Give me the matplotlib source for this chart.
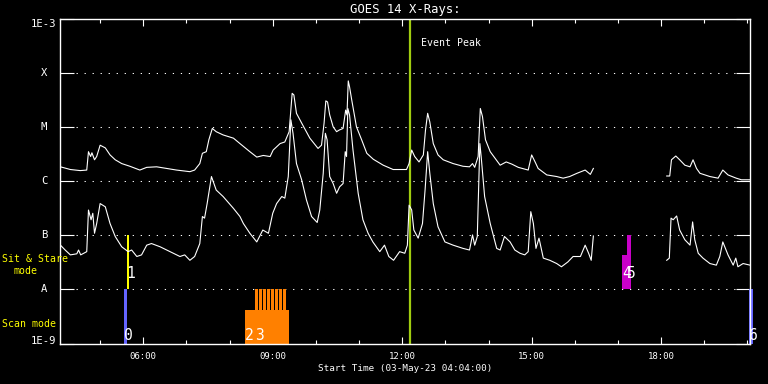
import numpy as np
import matplotlib
matplotlib.use('Agg')
import matplotlib.pyplot as plt
from matplotlib.ticker import FixedLocator, NullLocator, NullFormatter

# GOES 14 light curves
# time in hours of 03-May-23, flux as log10(W/m^2)
long_t = [4.08, 4.31, 4.54, 4.69, 4.73, 4.78, 4.81, 4.87, 4.92, 5.00,
          5.12, 5.23, 5.35, 5.50, 5.69, 5.92, 6.08, 6.31, 6.54, 6.77,
          7.08, 7.19, 7.31, 7.37, 7.46, 7.52, 7.60, 7.69, 7.85, 8.09,
          8.24, 8.47, 8.63, 8.78, 8.94, 9.01, 9.17, 9.28, 9.38, 9.45,
          9.49, 9.55, 9.67, 9.86, 10.05, 10.13, 10.19, 10.23, 10.27, 10.32,
          10.40, 10.48, 10.54, 10.63, 10.69, 10.72, 10.75, 10.78, 10.83, 10.94,
          11.06, 11.18, 11.33, 11.56, 11.79, 11.95, 12.10, 12.16, 12.22, 12.29,
          12.39, 12.49, 12.54, 12.59, 12.64, 12.72, 12.83, 12.95, 13.18, 13.41,
          13.56, 13.63, 13.68, 13.76, 13.81, 13.86, 13.93, 14.04, 14.27, 14.41,
          14.54, 14.69, 14.92, 15.00, 15.08, 15.15, 15.35, 15.58, 15.73, 15.88,
          16.05, 16.24, 16.36, 16.43, 18.13, 18.20, 18.24, 18.34, 18.43, 18.55,
          18.67, 18.74, 18.82, 18.90, 19.13, 19.32, 19.43, 19.55, 19.74, 19.86, 20.06]
long_log = [-5.73, -5.78, -5.80, -5.79, -5.45, -5.54, -5.47, -5.60, -5.54, -5.33,
            -5.38, -5.51, -5.60, -5.67, -5.72, -5.79, -5.74, -5.73, -5.76, -5.79,
            -5.82, -5.79, -5.67, -5.48, -5.45, -5.23, -5.02, -5.08, -5.14, -5.20,
            -5.30, -5.45, -5.55, -5.52, -5.54, -5.42, -5.30, -5.27, -5.08, -4.37,
            -4.40, -4.74, -4.92, -5.20, -5.39, -5.33, -4.92, -4.51, -4.53, -4.77,
            -4.99, -5.08, -5.05, -5.02, -4.68, -4.77, -4.14, -4.25, -4.49, -4.99,
            -5.23, -5.48, -5.59, -5.70, -5.78, -5.78, -5.78, -5.67, -5.42, -5.54,
            -5.64, -5.51, -5.05, -4.74, -4.90, -5.30, -5.51, -5.60, -5.67, -5.72,
            -5.73, -5.67, -5.74, -5.54, -4.65, -4.80, -5.23, -5.45, -5.70, -5.64,
            -5.68, -5.74, -5.79, -5.51, -5.64, -5.76, -5.88, -5.91, -5.94, -5.91,
            -5.85, -5.79, -5.87, -5.76, -5.90, -5.90, -5.60, -5.53, -5.60, -5.70,
            -5.73, -5.60, -5.76, -5.85, -5.91, -5.94, -5.79, -5.88, -5.94, -5.97, -5.97]

short_t = [4.08, 4.19, 4.31, 4.46, 4.50, 4.55, 4.69, 4.73, 4.77, 4.79,
           4.83, 4.87, 4.92, 5.00, 5.12, 5.23, 5.35, 5.50, 5.65, 5.73,
           5.85, 5.96, 6.08, 6.19, 6.39, 6.62, 6.85, 6.96, 7.08, 7.19,
           7.31, 7.37, 7.42, 7.48, 7.58, 7.69, 7.85, 8.09, 8.24, 8.32,
           8.47, 8.63, 8.77, 8.90, 9.00, 9.09, 9.21, 9.28, 9.36, 9.42,
           9.47, 9.55, 9.67, 9.78, 9.90, 10.03, 10.09, 10.17, 10.22, 10.26,
           10.32, 10.40, 10.48, 10.55, 10.63, 10.68, 10.71, 10.74, 10.78, 10.86,
           10.98, 11.09, 11.21, 11.32, 11.48, 11.59, 11.69, 11.80, 11.94, 12.06,
           12.12, 12.16, 12.22, 12.27, 12.37, 12.47, 12.53, 12.59, 12.64, 12.72,
           12.83, 12.99, 13.18, 13.41, 13.56, 13.63, 13.68, 13.74, 13.80, 13.83,
           13.91, 14.04, 14.19, 14.27, 14.37, 14.50, 14.61, 14.73, 14.84, 14.92,
           14.98, 15.04, 15.10, 15.17, 15.27, 15.42, 15.58, 15.69, 15.84, 15.96,
           16.13, 16.24, 16.32, 16.38, 16.43, 18.13, 18.19, 18.23, 18.28, 18.36,
           18.43, 18.55, 18.67, 18.73, 18.78, 18.86, 18.97, 19.13, 19.28, 19.36,
           19.43, 19.55, 19.67, 19.73, 19.78, 19.90, 20.06]
short_log = [-7.18, -7.27, -7.36, -7.34, -7.27, -7.36, -7.30, -6.53, -6.65, -6.71,
             -6.59, -6.96, -6.78, -6.41, -6.47, -6.78, -7.02, -7.21, -7.30, -7.27,
             -7.39, -7.36, -7.18, -7.15, -7.21, -7.30, -7.39, -7.36, -7.46, -7.39,
             -7.15, -6.65, -6.68, -6.41, -5.91, -6.16, -6.28, -6.50, -6.65, -6.78,
             -6.96, -7.12, -6.90, -6.96, -6.59, -6.41, -6.28, -6.31, -5.91, -4.86,
             -5.11, -5.67, -5.97, -6.34, -6.65, -6.76, -6.53, -5.85, -5.11, -5.23,
             -5.91, -6.04, -6.22, -6.10, -6.04, -5.45, -5.54, -4.65, -4.77, -5.42,
             -6.22, -6.71, -6.96, -7.12, -7.30, -7.18, -7.39, -7.46, -7.30, -7.33,
             -7.18, -6.44, -6.53, -6.90, -7.05, -6.78, -6.16, -5.45, -5.85, -6.41,
             -6.84, -7.12, -7.18, -7.24, -7.27, -6.99, -7.18, -7.02, -5.30, -5.54,
             -6.28, -6.78, -7.24, -7.27, -7.02, -7.12, -7.27, -7.33, -7.36, -7.30,
             -6.56, -6.78, -7.24, -7.05, -7.42, -7.46, -7.52, -7.58, -7.49, -7.39,
             -7.39, -7.18, -7.33, -7.46, -7.01, -7.46, -7.42, -6.68, -6.71, -6.64,
             -6.90, -7.08, -7.18, -6.75, -7.08, -7.33, -7.42, -7.52, -7.55, -7.39,
             -7.12, -7.36, -7.55, -7.42, -7.58, -7.52, -7.55]

# observations: label, start (h), length (h), lower / upper log level, colour
obs_label = ['0', '1', '2', '4', '5', '6']
obs_start = [5.553, 5.615, 8.356, 17.105, 17.205, 20.038]
obs_len = [0.077, 0.045, 1.02, 0.208, 0.108, 0.09]
obs_lo = [-9.0, -8.0, -9.0, -8.0, -8.0, -9.0]
obs_hi = [-8.0, -7.0, -8.38, -7.37, -7.0, -8.0]
obs_color = ['#6464ff', '#ffff00', '#ff8000', '#c800c8', '#c800c8', '#6464ff']
# obs 3 is a run of short repeats
obs3_starts = [8.587, 8.680, 8.772, 8.865, 8.958, 9.050, 9.143, 9.236]
obs3_len = 0.062
obs3_lo, obs3_hi = -8.38, -8.0

event_peak = 12.185
t_start, t_end = 4.0667, 20.0667

level_val = [-9, -8, -7, -6, -5, -4, -3]
level_txt = ['1E-9', 'A', 'B', 'C', 'M', 'X', '1E-3']
hour_ticks = [6, 9, 12, 15, 18]

plt.rcParams['font.family'] = ['DejaVu Sans Mono', 'DejaVu Sans']

fig = plt.figure(figsize=(7.68, 3.84), dpi=100, facecolor='black')
ax = fig.add_axes([59.85 / 768, 40.5 / 384, 690.45 / 768, 324.2 / 384])
ax.set_facecolor('black')
ax.set_yscale('log')
ax.set_xlim(t_start, t_end)
ax.set_ylim(1e-9, 1e-3)


def split_gaps(t, v):
    t = np.array(t, float)
    v = 10.0 ** np.array(v, float)
    cut = np.where(np.diff(t) > 1.0)[0] + 1
    t = np.insert(t, cut, np.nan)
    v = np.insert(v, cut, np.nan)
    return t, v


for t, v in [(long_t, long_log), (short_t, short_log)]:
    tt, vv = split_gaps(t, v)
    ax.plot(tt, vv, color='white', lw=0.8, zorder=4)

# dotted level lines
for lv in level_val[1:-1]:
    ax.axhline(10.0 ** lv, color='white', lw=0.75, dashes=(1.2, 6.5), zorder=1)

# observation bars
for i in range(len(obs_label)):
    lo, hi = 10.0 ** obs_lo[i], 10.0 ** obs_hi[i]
    ax.bar(obs_start[i], hi - lo, bottom=lo, width=obs_len[i], align='edge',
           color=obs_color[i], lw=0, zorder=2, clip_on=False)
for s in obs3_starts:
    lo, hi = 10.0 ** obs3_lo, 10.0 ** obs3_hi
    ax.bar(s, hi - lo, bottom=lo, width=obs3_len, align='edge',
           color='#ff8000', lw=0, zorder=2)

lab_t = obs_label[:3] + ['3'] + obs_label[3:]
lab_x = obs_start[:3] + [obs3_starts[0]] + obs_start[3:]
lab_lo = obs_lo[:3] + [-9.0] + obs_lo[3:]
for txt, x, lo in zip(lab_t, lab_x, lab_lo):
    y = 10.0 ** -8.93 if lo == -9.0 else 10.0 ** -7.78
    ax.text(x, y, txt, color='white', fontsize=10.5, ha='left', va='baseline',
            zorder=5, clip_on=False)

# event peak
ax.axvline(event_peak, color='#a0cc10', lw=1.6, zorder=3)
ax.annotate('Event Peak', xy=(event_peak, 1), xycoords=('data', 'axes fraction'),
            xytext=(8, -17), textcoords='offset points', color='white',
            fontsize=7.1, ha='left', va='center')

# axes, ticks
for sp in ax.spines.values():
    sp.set_color('white')
    sp.set_linewidth(1.0)
    sp.set_zorder(6)

ax.xaxis.set_major_locator(FixedLocator(hour_ticks))
ax.xaxis.set_minor_locator(FixedLocator(np.arange(5, 21)))
ax.set_xticklabels(['%02d:00' % h for h in hour_ticks])
ax.tick_params(axis='x', which='major', direction='in', length=5, width=0.8,
               colors='white', top=True, labelsize=6.5, pad=6)
ax.tick_params(axis='x', which='minor', direction='in', length=3, width=0.8,
               colors='white', top=True)

ax.yaxis.set_major_locator(FixedLocator([10.0 ** lv for lv in level_val]))
ax.yaxis.set_minor_locator(NullLocator())
ax.yaxis.set_major_formatter(NullFormatter())
ax.tick_params(axis='y', which='major', direction='in', length=10, width=0.8,
               colors='white', right=True)

ytr = ax.get_yaxis_transform()
for lv, txt in zip(level_val, level_txt):
    va = 'center'
    if lv == -9:
        va = 'baseline'
    elif lv == -3:
        va = 'top'
    ax.text(-0.023, 10.0 ** lv, txt, transform=ytr, color='white', fontsize=7.6,
            ha='center', va=va, clip_on=False)

fig.text(405 / 768, 1 - 10 / 384, 'GOES 14 X-Rays:', color='white',
         fontsize=8.8, ha='center', va='center')
fig.text(405 / 768, 1 - 368.7 / 384, 'Start Time (03-May-23 04:04:00)',
         color='white', fontsize=6.7, ha='center', va='center')

# mode labels
fig.text(2 / 768, 1 - 258.6 / 384, 'Sit & Stare', color='yellow', fontsize=7.1,
         ha='left', va='center', zorder=10)
fig.text(13 / 768, 1 - 270.8 / 384, 'mode', color='yellow', fontsize=7.1,
         ha='left', va='center', zorder=10)
fig.text(2 / 768, 1 - 323.6 / 384, 'Scan mode', color='yellow', fontsize=7.1,
         ha='left', va='center', zorder=10)

fig.savefig('out.png', dpi=100, facecolor='black')
